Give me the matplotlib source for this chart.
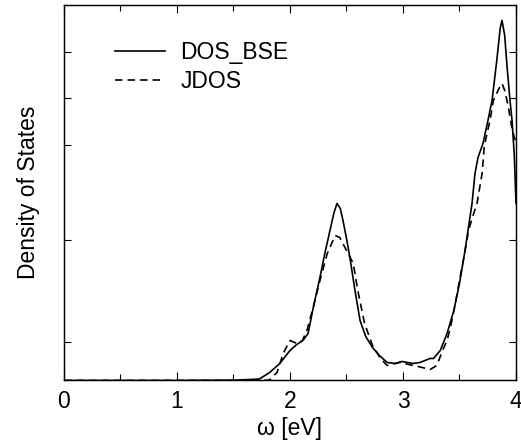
import matplotlib
matplotlib.use("Agg")
import matplotlib.pyplot as plt

plt.rcParams['font.family'] = ['Liberation Sans', 'DejaVu Sans']

# DOS_BSE (solid)
omega_bse = [0.0, 1.0, 1.5, 1.65, 1.73, 1.82, 1.91, 2.00, 2.06, 2.115, 2.16, 2.21, 2.265,
             2.31, 2.354, 2.39, 2.416, 2.445, 2.469, 2.50, 2.53, 2.575, 2.62, 2.67, 2.73,
             2.80, 2.86, 2.93, 2.99, 3.04, 3.09, 3.15, 3.24, 3.27, 3.33, 3.39, 3.45, 3.50,
             3.549, 3.575, 3.611, 3.637, 3.664, 3.708, 3.752, 3.788, 3.83, 3.86, 3.876,
             3.90, 3.92, 3.947, 3.965, 3.985, 4.0]
dos_bse = [0, 0, 0.3, 1, 1.5, 8, 17, 30, 36, 40, 47, 75, 103,
           128, 150, 168, 177, 172, 160, 142, 123, 90, 60, 44, 33,
           24, 18, 17, 19, 18, 17, 18, 22, 22, 30, 47, 70, 97,
           130, 150, 177, 207, 223, 237, 260, 280, 320, 352, 360,
           345, 315, 280, 260, 225, 177]

# JDOS (dashed)
omega_jdos = [0.0, 1.0, 1.6, 1.75, 1.82, 1.885, 1.94, 2.00, 2.06, 2.11, 2.15, 2.21, 2.265,
              2.33, 2.40, 2.44, 2.50, 2.56, 2.60, 2.66, 2.73, 2.80, 2.86, 2.97, 3.09,
              3.17, 3.24, 3.30, 3.35, 3.39, 3.42, 3.46, 3.50, 3.55, 3.58, 3.62, 3.655,
              3.70, 3.72, 3.77, 3.80, 3.85, 3.876, 3.90, 3.93, 3.96, 3.98, 4.0]
jdos = [0, 0, 0, 0, 0.5, 8, 27, 40, 37, 40, 50, 75, 100,
        127, 145, 143, 130, 117, 90, 57, 35, 22, 15, 18, 15,
        13, 11, 15, 30, 40, 53, 75, 100, 130, 150, 165, 177,
        207, 235, 260, 280, 292, 297, 290, 275, 255, 245, 238]

xticks = [0, 1, 2, 3, 4]
xminor = [0.5, 1.5, 2.5, 3.5]
ytick_left = [328.5, 282.5, 235.5, 140.5, 38.5]
ytick_right = [328.5, 282.5, 140.5, 38.5]

fig = plt.figure(figsize=(5.21, 4.45), dpi=100)
ax = fig.add_axes([0.1228, 0.145, 0.8676, 0.844])

ax.plot(omega_bse, dos_bse, color='black', lw=1.2, label='DOS_BSE')
ax.plot(omega_jdos, jdos, color='black', lw=1.2, ls=(0, (4.5, 3)), label='JDOS')

ax.set_xlim(0, 4)
ax.set_ylim(0, 375.5)
ax.set_xticks(xticks)
ax.set_xticks(xminor, minor=True)
ax.set_yticks(ytick_left)
ax.set_yticklabels([])
ax.tick_params(axis='x', which='major', direction='in', length=6, width=0.8, top=True,
               labelsize=16.5, pad=7)
ax.tick_params(axis='x', which='minor', direction='in', length=4, width=0.8, top=True)
ax.tick_params(axis='y', direction='in', length=5, width=0.8, left=True, right=False)

ax2 = ax.twinx()
ax2.set_ylim(0, 375.5)
ax2.set_yticks(ytick_right)
ax2.set_yticklabels([])
ax2.tick_params(axis='y', direction='in', length=5, width=0.8)

for a in (ax, ax2):
    for s in a.spines.values():
        s.set_linewidth(0.9)

ax.set_xlabel('ω [eV]', fontsize=16.5, labelpad=3)
ax.set_ylabel('Density of States', fontsize=16.5, labelpad=14)

ax.legend(loc='upper left', bbox_to_anchor=(0.113, 0.904), frameon=False, fontsize=16.5,
          handlelength=2.2, handletextpad=0.65, labelspacing=0.25, borderpad=0, borderaxespad=0)

fig.savefig('out.png', dpi=100)
